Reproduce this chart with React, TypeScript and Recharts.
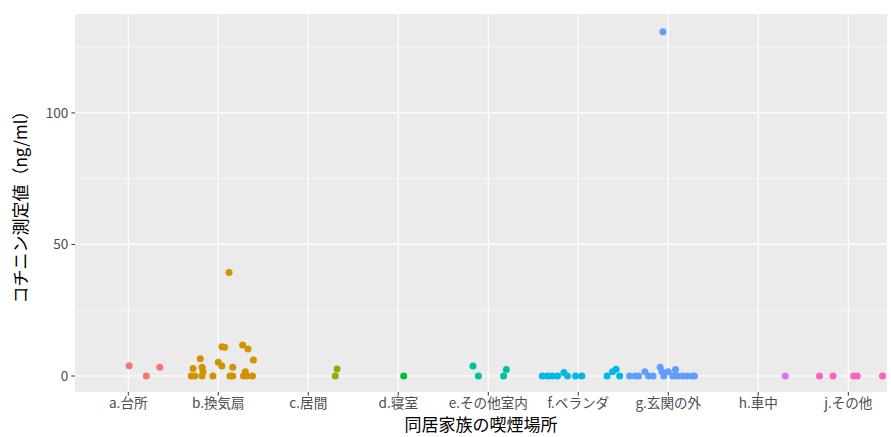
import React from 'react'
import { ScatterChart, Scatter, XAxis, YAxis, CartesianGrid, Label } from 'recharts'

// categories on the x axis (position 1..9)
const categories = ['a.台所', 'b.換気扇', 'c.居間', 'd.寝室', 'e.その他室内', 'f.ベランダ', 'g.玄関の外', 'h.車中', 'j.その他']
const colors = ['#F8766D', '#D39200', '#93AA00', '#00BA38', '#00C19F', '#00B9E3', '#619CFF', '#DB72FB', '#FF61C3']
const yTicks = [0, 50, 100]
const yMinor = [25, 75, 125]

// jittered points: [x position, cotinine ng/ml]
const kitchen = [[1.01, 3.9], [1.2, 0], [1.35, 3.3]]
const fan = [
  [1.70, 0], [1.72, 2.9], [1.74, 0], [1.80, 6.6], [1.82, 3.3], [1.82, 0], [1.83, 1.6], [1.94, 0],
  [2.00, 5.2], [2.04, 3.8], [2.04, 11.1], [2.07, 10.9], [2.12, 39.3], [2.13, 0], [2.16, 3.3], [2.16, 0],
  [2.27, 11.8], [2.28, 0], [2.30, 1.6], [2.32, 0], [2.33, 10.3], [2.38, 0], [2.39, 6.1],
]
const living = [[3.32, 2.7], [3.30, 0]]
const bedroom = [[4.06, 0]]
const otherRoom = [[4.83, 3.8], [4.89, 0], [5.20, 2.5], [5.17, 0]]
const veranda = [
  [5.60, 0], [5.66, 0], [5.71, 0], [5.77, 0], [5.84, 1.3], [5.88, 0], [5.97, 0], [6.04, 0],
  [6.32, 0], [6.38, 1.6], [6.42, 2.6], [6.46, 0],
]
const entrance = [
  [6.57, 0], [6.63, 0], [6.67, 0], [6.74, 1.6], [6.78, 0], [6.83, 0], [6.91, 3.3], [6.93, 1.6],
  [6.95, 0], [7.00, 1.6], [7.05, 0], [7.08, 2.5], [7.10, 0], [7.16, 0], [7.21, 0], [7.27, 0],
  [7.29, 0], [6.94, 130.9],
]
const car = [[8.30, 0]]
const other = [[8.68, 0], [8.83, 0], [9.06, 0], [9.10, 0], [9.38, 0]]

const groups = [kitchen, fan, living, bedroom, otherRoom, veranda, entrance, car, other]

const toPoints = (arr: number[][]) => arr.map(([x, y]) => ({ x, y }))

const tickStyle = { fill: '#4D4D4D', fontSize: 13.6, fontFamily: '"Noto Sans CJK JP", "Noto Sans", sans-serif' }
const titleFont = '"Noto Sans CJK JP", "Noto Sans", sans-serif'

const Dot = (color: string) => (props: any) => (
  <circle cx={props.cx} cy={props.cy} r={3.5} fill={color} />
)

export default function App() {
  return (
    <div style={{ position: 'absolute', left: 0, top: 0, width: 891, height: 437, background: '#fff' }}>
      <ScatterChart width={891} height={437} margin={{ top: 14, right: 4, left: 0, bottom: 0 }}>
        <CartesianGrid
          fill="#EBEBEB"
          stroke="#FFFFFF"
          strokeWidth={0.6}
          vertical={false}
          horizontalValues={yMinor}
        />
        <CartesianGrid
          stroke="#FFFFFF"
          strokeWidth={1.2}
          verticalValues={[1, 2, 3, 4, 5, 6, 7, 8, 9]}
          horizontalValues={yTicks}
        />
        <XAxis
          type="number"
          dataKey="x"
          domain={[0.408, 9.43]}
          ticks={[1, 2, 3, 4, 5, 6, 7, 8, 9]}
          tickFormatter={(v: number) => categories[v - 1]}
          interval={0}
          allowDataOverflow
          height={45}
          axisLine={false}
          tickLine={{ stroke: '#333333' }}
          tickSize={3.6}
          tickMargin={3}
          tick={tickStyle}
        >
          <Label
            content={({ viewBox }: any) => (
              <text
                x={viewBox.x + viewBox.width / 2}
                y={431}
                textAnchor="middle"
                fontSize={17}
                fill="#000"
                fontFamily={titleFont}
              >
                同居家族の喫煙場所
              </text>
            )}
          />
        </XAxis>
        <YAxis
          type="number"
          dataKey="y"
          domain={[-6.08, 137.6]}
          ticks={yTicks}
          allowDataOverflow
          width={75}
          axisLine={false}
          tickLine={{ stroke: '#333333' }}
          tickSize={3.6}
          tickMargin={3}
          tick={tickStyle}
        >
          <Label
            content={({ viewBox }: any) => {
              const cy = viewBox.y + viewBox.height / 2
              return (
                <text
                  x={27}
                  y={cy}
                  textAnchor="middle"
                  fontSize={17}
                  fill="#000"
                  fontFamily={titleFont}
                  transform={`rotate(-90, 27, ${cy})`}
                >
                  コチニン測定値（ng/ml）
                </text>
              )
            }}
          />
        </YAxis>
        {groups.map((g, i) => (
          <Scatter
            key={categories[i]}
            name={categories[i]}
            data={toPoints(g)}
            fill={colors[i]}
            shape={Dot(colors[i])}
            isAnimationActive={false}
          />
        ))}
      </ScatterChart>
    </div>
  )
}
